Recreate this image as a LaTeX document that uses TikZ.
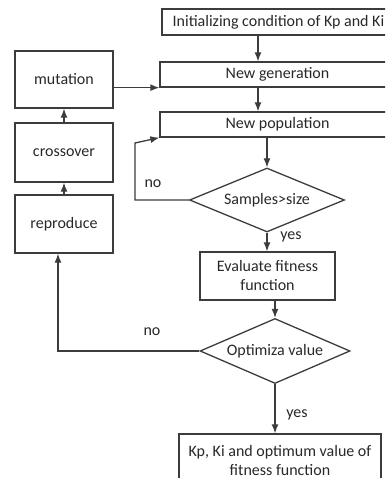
\documentclass[tikz,border=0pt]{standalone}
\usepackage{fontspec}
\setmainfont{Carlito}
\usetikzlibrary{arrows.meta,shapes.geometric}
\definecolor{ln}{RGB}{60,60,60}
\definecolor{tx}{RGB}{40,40,40}
\begin{document}
\begin{tikzpicture}[x=1pt,y=-1pt,
  font=\fontsize{16}{19}\selectfont, text=tx,
  box/.style={draw=ln, line width=1.3pt, rectangle, inner sep=0pt, align=center},
  dia/.style={draw=ln, line width=1.3pt, diamond, inner sep=0pt, aspect=2.4},
  arr/.style={draw=ln, line width=1.3pt, -{Latex[length=9pt,width=7pt]}},
  lbl/.style={inner sep=0pt}]
\useasboundingbox (0,0) rectangle (385,478);
\clip (0,0) rectangle (385,478);
\node[box, minimum width=233pt, minimum height=26pt] (init) at (278.5,22) {Initializing condition of Kp and Ki};
\node[box, minimum width=235pt, minimum height=25pt] (gen) at (277.5,74.5) {New generation};
\node[box, minimum width=235pt, minimum height=25pt] (pop) at (277.5,124.5) {New population};
\node[box, minimum width=98pt, minimum height=57pt] (mut) at (64,79.5) {mutation};
\node[box, minimum width=98pt, minimum height=59pt] (cross) at (64,152.5) {crossover};
\node[box, minimum width=98pt, minimum height=58pt] (rep) at (64,224) {reproduce};
\node[dia, minimum width=155pt, minimum height=64pt] (d1) at (267,200) {Samples>size};
\node[box, minimum width=135pt, minimum height=48pt] (eval) at (267.5,276) {Evaluate fitness\\function};
\node[dia, minimum width=150pt, minimum height=65pt] (d2) at (275,351) {Optimiza value};
\node[box, minimum width=202pt, minimum height=52pt] (fin) at (280,460) {Kp, Ki and optimum value of\\fitness function};
\coordinate (cA) at (258,0);
\coordinate (cB) at (135,143);
\coordinate (cC) at (58,0);
\draw[arr] (init.south -| cA) -- (gen.north -| cA);
\draw[arr] (gen.south -| cA) -- (pop.north -| cA);
\draw[arr] (pop.south -| d1.north) -- (d1.north);
\draw[arr] (d1.south) -- (eval.north -| d1.south);
\draw[arr] (eval.south -| d2.north) -- (d2.north);
\draw[arr] (d2.south) -- (fin.north -| d2.south);
\draw[arr] (d1.west) -| (cB) -- (pop.south west);
\draw[arr] (d2.west) -| (rep.south -| cC);
\draw[arr] (rep.north) -- (cross.south);
\draw[arr] (cross.north) -- (mut.south);
\draw[arr] (mut.east |- gen.south west) -- (gen.south west);
\node[lbl] (no1) at (153,184) {no};
\node[lbl] (yes1) at (291,237) {yes};
\node[lbl] (no2) at (152,332) {no};
\node[lbl] (yes2) at (297,415) {yes};
\end{tikzpicture}
\end{document}
